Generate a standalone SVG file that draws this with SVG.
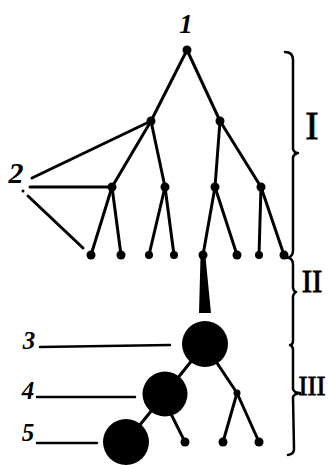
<svg xmlns="http://www.w3.org/2000/svg" width="328" height="465" viewBox="0 0 328 465">
<style>
.e{stroke:#000;stroke-width:3;stroke-linecap:round;fill:none}
.t{stroke:#000;stroke-width:2.5;stroke-linecap:round;fill:none}
.b{stroke:#000;stroke-width:2.5;stroke-linecap:round;stroke-linejoin:round;fill:none}
.d{fill:#000}
.n{font-family:"Liberation Serif",serif;font-style:italic;font-weight:bold;fill:#000;text-anchor:middle}
.r{font-family:"Liberation Serif",serif;fill:#000;stroke:#000;stroke-width:0.8;text-anchor:middle}
</style>
<rect width="328" height="465" fill="#fff"/>
<g id="connectors">
<line class="e" x1="187" y1="50" x2="151" y2="121"/>
<line class="e" x1="187" y1="50" x2="220" y2="121"/>
<line class="e" x1="151" y1="121" x2="112" y2="187"/>
<line class="e" x1="151" y1="121" x2="165" y2="187"/>
<line class="e" x1="220" y1="121" x2="215" y2="187"/>
<line class="e" x1="220" y1="121" x2="261" y2="187"/>
<line class="e" x1="112" y1="187" x2="91" y2="255"/>
<line class="e" x1="112" y1="187" x2="121" y2="255"/>
<line class="e" x1="165" y1="187" x2="149" y2="255"/>
<line class="e" x1="165" y1="187" x2="174" y2="255"/>
<line class="e" x1="215" y1="187" x2="203" y2="255"/>
<line class="e" x1="215" y1="187" x2="237" y2="255"/>
<line class="e" x1="261" y1="187" x2="259" y2="255"/>
<line class="e" x1="261" y1="187" x2="284" y2="255"/>
<line class="e" x1="32" y1="178" x2="151" y2="121"/>
<line class="e" x1="30" y1="187" x2="112" y2="187"/>
<line class="e" x1="28" y1="196" x2="83" y2="248"/>
<polygon class="d" points="200.5,257 205.5,257 211,313 199,313"/>
<line class="e" x1="205" y1="344" x2="165" y2="394"/>
<line class="e" x1="165" y1="394" x2="126" y2="442"/>
<line class="e" x1="215" y1="360" x2="237" y2="393"/>
<line class="e" x1="237" y1="393" x2="259" y2="442"/>
<line class="e" x1="237" y1="393" x2="223" y2="442"/>
<line class="e" x1="170" y1="412" x2="185" y2="442"/>
<line class="t" x1="40" y1="347" x2="170" y2="345"/>
<line class="t" x1="37" y1="397" x2="135" y2="397"/>
<line class="t" x1="37" y1="443" x2="97" y2="443"/>
</g>
<g id="n1"><circle class="d" cx="187" cy="50" r="4.5"/><text class="n" x="186" y="33" font-size="27">1</text></g>
<g id="n2"><text class="n" x="16" y="183" font-size="30">2</text><circle class="d" cx="23" cy="191" r="1.5"/></g>
<g id="a1"><circle class="d" cx="151" cy="121" r="4.5"/></g>
<g id="a2"><circle class="d" cx="220" cy="121" r="4.5"/></g>
<g id="b1"><circle class="d" cx="112" cy="187" r="4.5"/></g>
<g id="b2"><circle class="d" cx="165" cy="187" r="4.5"/></g>
<g id="b3"><circle class="d" cx="215" cy="187" r="4.5"/></g>
<g id="b4"><circle class="d" cx="261" cy="187" r="4.5"/></g>
<g id="leaves">
<circle class="d" cx="91" cy="255" r="4.5"/>
<circle class="d" cx="121" cy="255" r="4.5"/>
<circle class="d" cx="149" cy="255" r="4"/>
<circle class="d" cx="174" cy="255" r="4"/>
<circle class="d" cx="203" cy="255" r="4.5"/>
<circle class="d" cx="237" cy="255" r="4.5"/>
<circle class="d" cx="259" cy="255" r="4"/>
<circle class="d" cx="284" cy="255" r="4.5"/>
</g>
<g id="n3"><circle class="d" cx="205" cy="344" r="23"/><text class="n" x="29" y="349" font-size="25">3</text></g>
<g id="n4"><circle class="d" cx="165" cy="394" r="22.5"/><text class="n" x="28" y="399" font-size="25">4</text></g>
<g id="n5"><circle class="d" cx="126" cy="442" r="23"/><text class="n" x="28" y="441" font-size="25">5</text></g>
<g id="c1"><circle class="d" cx="237" cy="393" r="3.5"/></g>
<g id="c2">
<circle class="d" cx="185" cy="442" r="4.5"/>
<circle class="d" cx="223" cy="442" r="4.5"/>
<circle class="d" cx="259" cy="442" r="4.5"/>
</g>
<g id="brackets">
<path class="b" d="M285,52 Q293,52 293,60 L293,149 Q294,153 298,153 Q294,154 293,157 L293,250 Q293,257 287,258"/>
<path class="b" d="M289,258 Q293,259 293,265 L293,288 Q294,292 296,292 Q294,293 293,296 L293,340 Q293,345 290,345 Q293,346 293,350 L293,389 Q294,393 300,393 Q294,394 293,397 L294,449 Q294,454 288,455"/>
</g>
<g id="labels">
<text class="r" x="312" y="139" font-size="40">I</text>
<text class="r" x="312" y="292" font-size="31">II</text>
<text class="r" x="312" y="395" font-size="27">III</text>
</g>
</svg>
